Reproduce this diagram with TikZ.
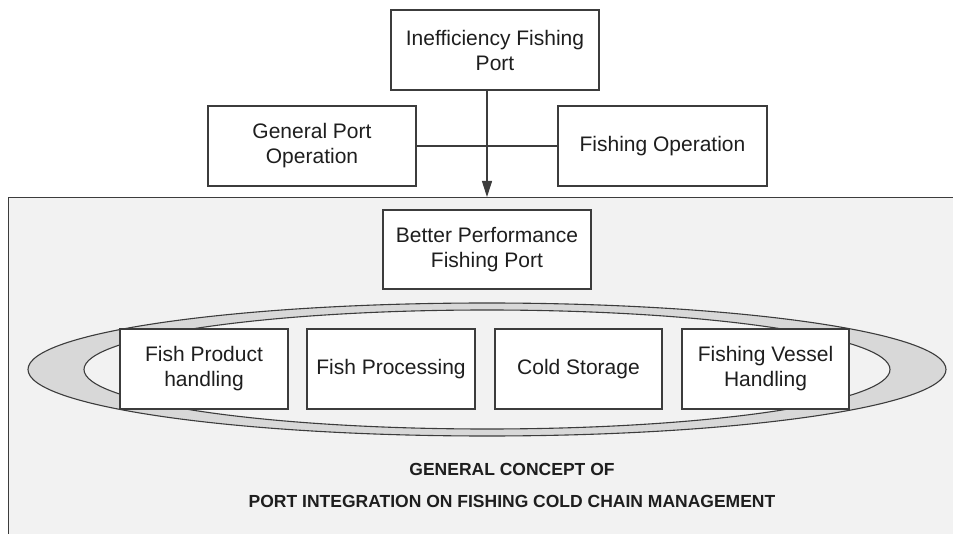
\documentclass[tikz,border=0pt]{standalone}
\usepackage{fontspec}
\setmainfont{Liberation Sans}
\usetikzlibrary{arrows.meta}
\definecolor{edge}{HTML}{3C3C3C}
\definecolor{panel}{HTML}{F2F2F2}
\definecolor{band}{HTML}{D8D8D8}
\definecolor{ink}{HTML}{1E1E1E}
\tikzset{
  box/.style={draw=edge, line width=1.1pt, fill=white, align=center, text=ink,
    inner sep=0pt, font=\fontsize{21}{25}\selectfont},
  link/.style={draw=edge, line width=1.1pt},
  caption/.style={text=ink, font=\bfseries\fontsize{17.5}{20}\selectfont, inner sep=0pt}
}
\begin{document}
\begin{tikzpicture}[x=1pt, y=-1pt]
\useasboundingbox (0,0) rectangle (953,534);
\fill[white] (0,0) rectangle (953,534);
\begin{scope}
\clip (0,0) rectangle (953,534);
% shaded panel for the integrated concept
\node[draw=edge, line width=1.1pt, fill=panel, anchor=north west, inner sep=0pt,
      minimum width=980pt, minimum height=360pt] (frame) at (8,197) {};
\end{scope}

% upper level
\node[box, minimum width=208pt, minimum height=80pt] (top) at (495,50) {Inefficiency Fishing\\Port};
\node[box, minimum width=208pt, minimum height=80pt] (gpo) at (312,146) {General Port\\Operation};
\node[box, minimum width=209pt, minimum height=80pt] (fo) at (662.5,146) {Fishing Operation};
\draw[link] (gpo.east) -- (fo.west);
\draw[link, -{Triangle[width=10pt,length=16pt]}] ([xshift=-8pt]top.south) -- ([xshift=-8pt]top.south |- frame.north);

% result box
\node[box, minimum width=208pt, minimum height=79pt] (better) at (487,249.5) {Better Performance\\Fishing Port};

% ring of cold-chain activities
\draw[draw=edge, line width=1.1pt, fill=band] (487,369.5) ellipse [x radius=459, y radius=66.5];
\draw[draw=edge, line width=1.1pt, fill=panel] (487,369.5) ellipse [x radius=403, y radius=59.5];

\node[box, minimum width=168pt, minimum height=80pt] (fph) at (204,369) {Fish Product\\handling};
\node[box, minimum width=168pt, minimum height=80pt] (fp) at (391,369) {Fish Processing};
\node[box, minimum width=167pt, minimum height=80pt] (cs) at (578.5,369) {Cold Storage};
\node[box, minimum width=167pt, minimum height=80pt] (fvh) at (765.5,369) {Fishing Vessel\\Handling};

% caption
\node[caption] (cap1) at (512,469) {GENERAL CONCEPT OF};
\node[caption] (cap2) at (512,501) {PORT INTEGRATION ON FISHING COLD CHAIN MANAGEMENT};
\end{tikzpicture}
\end{document}
